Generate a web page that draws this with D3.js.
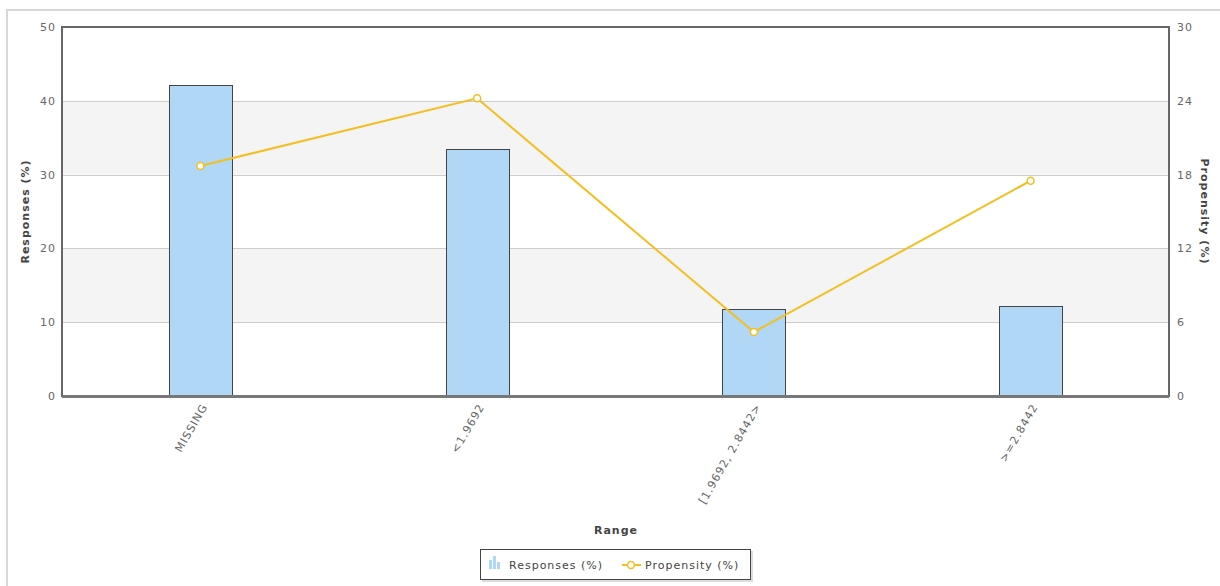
<!DOCTYPE html>
<html>
<head>
<meta charset="utf-8">
<script src="https://cdn.jsdelivr.net/npm/d3@7"></script>
<style>
  html, body { margin: 0; padding: 0; background: #fff; }
  svg { display: block; font-family: "DejaVu Sans", Verdana, sans-serif; letter-spacing: 1px; }
</style>
</head>
<body>
<svg id="chart" width="1220" height="586"></svg>
<script>
const categories = ["MISSING", "<1.9692", "[1.9692, 2.8442>", ">=2.8442"];
const responses = [42.1, 33.5, 11.8, 12.2];
const propensity = [18.7, 24.2, 5.2, 17.5];
const leftTicks = [0, 10, 20, 30, 40, 50];
const rightTicks = [0, 6, 12, 18, 24, 30];
const seriesNames = ["Responses (%)", "Propensity (%)"];

const svg = d3.select("#chart");
const m = { left: 62, top: 27, right: 1169, bottom: 396 };
const FONT = "DejaVu Sans, Verdana, sans-serif";

// outer frame
svg.append("rect").attr("x", 7).attr("y", 10).attr("width", 1240).attr("height", 600)
  .attr("fill", "#fff").attr("stroke", "#d8d8d8").attr("stroke-width", 2);

const x = d3.scaleBand().domain(categories).range([m.left, m.right]);
const yL = d3.scaleLinear().domain([0, 50]).range([m.bottom, m.top]);
const yR = d3.scaleLinear().domain([0, 30]).range([m.bottom, m.top]);

// alternating bands
const bands = [[10, 20], [30, 40]];
svg.append("g").selectAll("rect").data(bands).join("rect")
  .attr("x", m.left).attr("width", m.right - m.left)
  .attr("y", d => yL(d[1])).attr("height", d => yL(d[0]) - yL(d[1]))
  .attr("fill", "#f4f4f4");

// grid lines
svg.append("g").selectAll("line").data(leftTicks.filter(t => t > 0 && t < 50)).join("line")
  .attr("x1", m.left).attr("x2", m.right)
  .attr("y1", d => Math.round(yL(d)) + 0.5).attr("y2", d => Math.round(yL(d)) + 0.5)
  .attr("stroke", "#cccccc").attr("stroke-width", 1);

// bars
const bw = 63;
svg.append("g").selectAll("rect").data(responses).join("rect")
  .attr("x", (d, i) => Math.round(x(categories[i]) + x.bandwidth() / 2 - bw / 2) + 0.5)
  .attr("y", d => Math.round(yL(d)) + 0.5)
  .attr("width", bw)
  .attr("height", d => m.bottom - Math.round(yL(d)))
  .attr("fill", "#b0d7f5").attr("stroke", "#444").attr("stroke-width", 1);

// plot border
svg.append("rect").attr("x", m.left).attr("y", m.top)
  .attr("width", m.right - m.left).attr("height", m.bottom - m.top)
  .attr("fill", "none").attr("stroke", "#666").attr("stroke-width", 2);
// heavier bottom axis line
svg.append("line").attr("x1", m.left).attr("x2", m.right).attr("y1", m.bottom + 0.5).attr("y2", m.bottom + 0.5)
  .attr("stroke", "#777").attr("stroke-width", 3);

// line
const cx = (d, i) => x(categories[i]) + x.bandwidth() / 2;
const line = d3.line().x(cx).y(d => yR(d));
svg.append("path").datum(propensity).attr("d", line)
  .attr("fill", "none").attr("stroke", "#f3bf22").attr("stroke-width", 2);
svg.append("g").selectAll("circle").data(propensity).join("circle")
  .attr("cx", cx).attr("cy", d => yR(d)).attr("r", 3.5)
  .attr("fill", "#fff").attr("stroke", "#f3bf22").attr("stroke-width", 1.5);

// left axis
const axL = d3.axisLeft(yL).tickValues(leftTicks).tickSize(0).tickPadding(6);
const gL = svg.append("g").attr("transform", `translate(${m.left},0)`).call(axL);
gL.select(".domain").remove();
gL.selectAll("text").attr("font-size", 11).attr("fill", "#666").attr("font-family", FONT);

// right axis
const axR = d3.axisRight(yR).tickValues(rightTicks).tickSize(0).tickPadding(8);
const gR = svg.append("g").attr("transform", `translate(${m.right},0)`).call(axR);
gR.select(".domain").remove();
gR.selectAll("text").attr("font-size", 11).attr("fill", "#666").attr("font-family", FONT);

// bottom axis labels
const axB = d3.axisBottom(x).tickSize(0).tickPadding(0);
const gB = svg.append("g").attr("transform", `translate(0,${m.bottom})`).call(axB);
gB.select(".domain").remove();
gB.selectAll("text")
  .attr("font-size", 11).attr("fill", "#666").attr("font-family", FONT)
  .attr("text-anchor", "end").attr("dy", null).attr("y", null)
  .attr("transform", "translate(5,9) rotate(-60)")
  .attr("dominant-baseline", "middle");

// axis titles
svg.append("text").attr("transform", `translate(29,${(m.top + m.bottom) / 2}) rotate(-90)`)
  .attr("text-anchor", "middle").attr("font-size", 11).attr("font-weight", "bold").attr("fill", "#444")
  .text("Responses (%)");
svg.append("text").attr("transform", `translate(1201,${(m.top + m.bottom) / 2}) rotate(90)`)
  .attr("text-anchor", "middle").attr("font-size", 11).attr("font-weight", "bold").attr("fill", "#444")
  .text("Propensity (%)");
svg.append("text").attr("x", 616).attr("y", 534)
  .attr("text-anchor", "middle").attr("font-size", 11).attr("font-weight", "bold").attr("fill", "#444")
  .text("Range");

// legend
const lg = svg.append("g").attr("transform", "translate(480,549)");
lg.append("rect").attr("x", 2).attr("y", 2).attr("width", 271).attr("height", 31).attr("fill", "#bbb").attr("opacity", 0.5);
lg.append("rect").attr("x", 0.5).attr("y", 0.5).attr("width", 270).attr("height", 30)
  .attr("fill", "#fff").attr("stroke", "#444").attr("stroke-width", 1);
const icon = [[9, 11, 3, 9], [13, 7, 3, 13], [17, 13, 3, 7]];
lg.append("g").selectAll("rect").data(icon).join("rect")
  .attr("x", d => d[0]).attr("y", d => d[1]).attr("width", d => d[2]).attr("height", d => d[3])
  .attr("fill", "#b0d7f5");
lg.append("text").attr("x", 29).attr("y", 20).attr("font-size", 11).attr("fill", "#444").text(seriesNames[0]);
lg.append("line").attr("x1", 142).attr("x2", 161).attr("y1", 16).attr("y2", 16)
  .attr("stroke", "#f3bf22").attr("stroke-width", 2);
lg.append("circle").attr("cx", 151).attr("cy", 16).attr("r", 3.5)
  .attr("fill", "#fff").attr("stroke", "#f3bf22").attr("stroke-width", 1.5);
lg.append("text").attr("x", 165).attr("y", 20).attr("font-size", 11).attr("fill", "#444").text(seriesNames[1]);
</script>
</body>
</html>
